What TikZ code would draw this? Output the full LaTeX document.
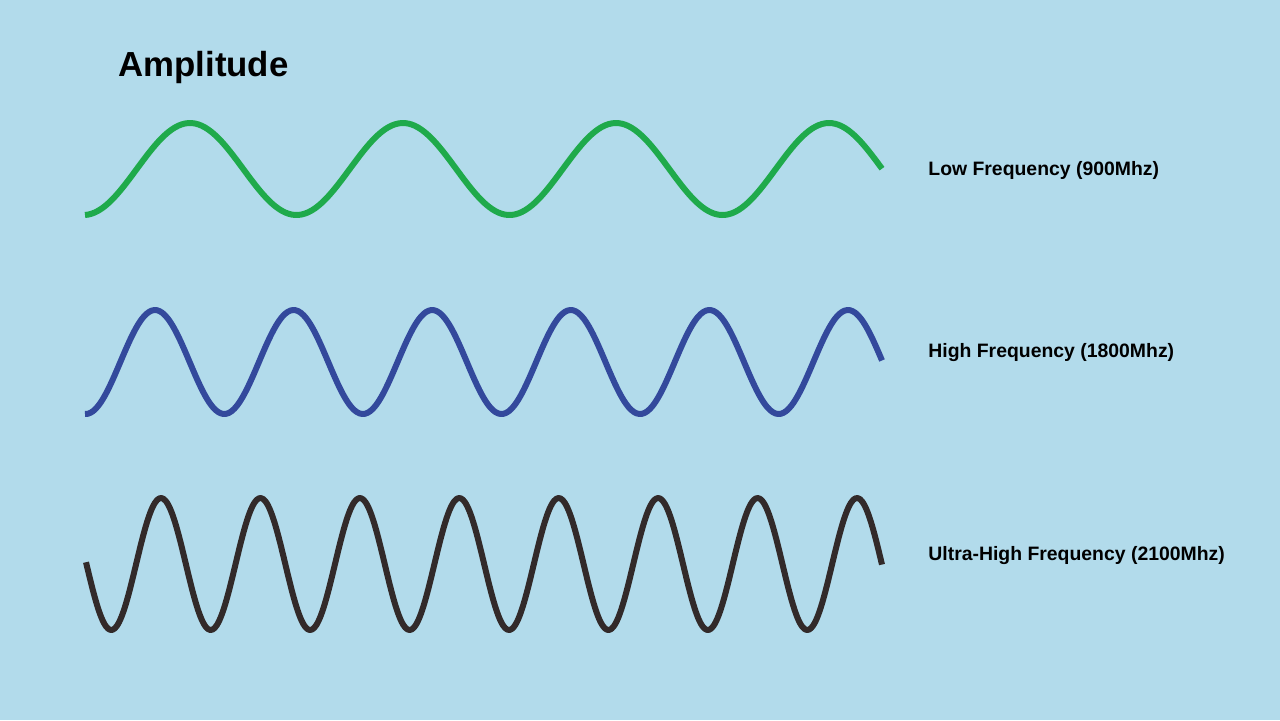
\documentclass[tikz,border=0pt]{standalone}
\usepackage{fontspec}
\setmainfont{Liberation Sans}
\definecolor{bgblue}{HTML}{B2DBEB}
\definecolor{wavegreen}{HTML}{1FAA4B}
\definecolor{waveblue}{HTML}{33499C}
\definecolor{wavedark}{HTML}{322A2A}
\begin{document}
\begin{tikzpicture}[x=0.5pt,y=-0.5pt,
  wave/.style={line width=3pt,line join=round},
  label/.style={anchor=base west,inner sep=0pt,font=\fontsize{9.7pt}{11pt}\selectfont\bfseries},
  titletext/.style={anchor=base west,inner sep=0pt,font=\fontsize{17.4pt}{20pt}\selectfont\bfseries}]
\fill[bgblue] (0,0) rectangle (1280,720);
\useasboundingbox (0,0) rectangle (1280,720);
\node[titletext] (title) at (118,76) {Amplitude};
\draw[wave,wavegreen] plot[domain=85:882,samples=240,smooth] (\x,{169-46*cos((\x-190)/213*360)});
\draw[wave,waveblue] plot[domain=85:882,samples=300,smooth] (\x,{362-52*cos((\x-155)/138.6*360)});
\draw[wave,wavedark] plot[domain=86:882,samples=360,smooth] (\x,{564-66*cos((\x-161)/99.43*360)});
\node[label] (low) at (928,175) {Low Frequency (900Mhz)};
\node[label] (high) at (928,357) {High Frequency (1800Mhz)};
\node[label] (ultra) at (928,560) {Ultra-High Frequency (2100Mhz)};
\end{tikzpicture}
\end{document}
